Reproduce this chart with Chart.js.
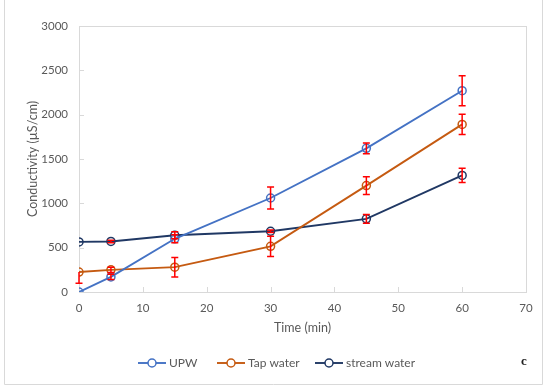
<!DOCTYPE html>
<html>
<head>
<meta charset="utf-8">
<script src="https://cdn.jsdelivr.net/npm/chart.js@4"></script>
<style>
  body { margin: 0; background: #fff; }
  #wrap { width: 550px; height: 390px; }
</style>
</head>
<body>
<div id="wrap"><canvas id="cond" width="550" height="390"></canvas></div>
<script>
// data
const timeMin = [0, 5, 15, 30, 45, 60];
const upw = [0, 170, 600, 1060, 1620, 2270];
const upwErr = [0, 30, 45, 125, 60, 170];
const tap = [225, 250, 280, 515, 1200, 1890];
const tapErrLow = [125, 30, 110, 115, 100, 115];
const tapErrHigh = [0, 30, 110, 115, 100, 115];
const stream = [565, 570, 640, 685, 825, 1315];
const streamErr = [0, 15, 40, 15, 50, 80];
const yTicks = [0, 500, 1000, 1500, 2000, 2500, 3000];
const xTicks = [0, 10, 20, 30, 40, 50, 60, 70];

const textGrey = '#595959'
const axisGrey = '#d9d9d9'
const fontFam = 'Lato, "Open Sans", sans-serif'

function pts(vals) {
  return timeMin.map((t, i) => ({ x: t, y: vals[i] }))
}

function series(label, vals, color, lo, hi) {
  return {
    label: label,
    data: pts(vals),
    borderColor: color,
    backgroundColor: 'rgba(0,0,0,0)',
    borderWidth: 1.9,
    pointRadius: 4,
    pointBorderWidth: 1.5,
    pointBorderColor: color,
    pointBackgroundColor: 'rgba(0,0,0,0)',
    tension: 0,
    errLow: lo,
    errHigh: hi
  }
}

// box around plot, inside ticks, red error bars, legend, frame
const extras = {
  id: 'extras',
  beforeDatasetsDraw(chart) {
    const ctx = chart.ctx
    const a = chart.chartArea
    const xs = chart.scales.x, ys = chart.scales.y
    ctx.save()
    ctx.strokeStyle = axisGrey
    ctx.lineWidth = 1
    ctx.strokeRect(Math.round(a.left) + 0.5, Math.round(a.top) + 0.5,
      Math.round(a.right - a.left), Math.round(a.bottom - a.top))
    ctx.beginPath()
    xTicks.forEach(v => {
      const px = Math.round(xs.getPixelForValue(v)) + 0.5
      ctx.moveTo(px, a.bottom)
      ctx.lineTo(px, a.bottom - 5)
    })
    yTicks.forEach(v => {
      const py = Math.round(ys.getPixelForValue(v)) + 0.5
      ctx.moveTo(a.left, py)
      ctx.lineTo(a.left + 5, py)
    })
    ctx.stroke()
    ctx.restore()
  },
  afterDatasetsDraw(chart) {
    const ctx = chart.ctx
    const xs = chart.scales.x, ys = chart.scales.y
    ctx.save()
    ctx.strokeStyle = '#ff0000'
    ctx.lineWidth = 1.5
    chart.data.datasets.forEach(ds => {
      ds.data.forEach((p, i) => {
        const lo = ds.errLow[i], hi = ds.errHigh[i]
        if (!lo && !hi) return
        const px = xs.getPixelForValue(p.x)
        const top = ys.getPixelForValue(p.y + hi)
        const bot = ys.getPixelForValue(p.y - lo)
        ctx.beginPath()
        ctx.moveTo(px, top); ctx.lineTo(px, bot)
        if (hi) { ctx.moveTo(px - 3.5, top); ctx.lineTo(px + 3.5, top) }
        if (lo) { ctx.moveTo(px - 3.5, bot); ctx.lineTo(px + 3.5, bot) }
        ctx.stroke()
      })
    })
    ctx.restore()
  },
  afterDraw(chart) {
    const ctx = chart.ctx
    ctx.save()
    // legend
    const legX = [138, 217, 315]
    const ly = 363
    ctx.font = '12px ' + fontFam
    ctx.textBaseline = 'middle'
    chart.data.datasets.forEach((ds, i) => {
      const x0 = legX[i]
      ctx.strokeStyle = ds.borderColor
      ctx.lineWidth = 1.9
      ctx.beginPath()
      ctx.moveTo(x0, ly); ctx.lineTo(x0 + 28, ly)
      ctx.stroke()
      ctx.fillStyle = '#fff'
      ctx.lineWidth = 1.5
      ctx.beginPath()
      ctx.arc(x0 + 14, ly, 4, 0, Math.PI * 2)
      ctx.fill()
      ctx.stroke()
      ctx.fillStyle = textGrey
      ctx.fillText(ds.label, x0 + 31, ly)
    })
    // panel letter
    ctx.fillStyle = '#222'
    ctx.font = 'bold 13px "Liberation Serif", serif'
    ctx.textAlign = 'center'
    ctx.fillText('c', 524, 362)
    // outer frame
    ctx.strokeStyle = axisGrey
    ctx.lineWidth = 1
    ctx.beginPath()
    ctx.moveTo(4.5, 0); ctx.lineTo(4.5, 384.5)
    ctx.lineTo(542.5, 384.5); ctx.lineTo(542.5, 0)
    ctx.stroke()
    ctx.restore()
  }
}

const config = {
  type: 'line',
  data: {
    datasets: [
      series('UPW', upw, '#4472c4', upwErr, upwErr),
      series('Tap water', tap, '#c55a11', tapErrLow, tapErrHigh),
      series('stream water', stream, '#203864', streamErr, streamErr)
    ]
  },
  options: {
    responsive: false,
    animation: false,
    layout: { padding: { top: 26, right: 24, bottom: 51, left: 0 } },
    plugins: {
      legend: { display: false },
      tooltip: { enabled: false }
    },
    scales: {
      x: {
        type: 'linear',
        min: 0,
        max: 70,
        afterFit: s => { s.height = 47 },
        afterBuildTicks: s => { s.ticks = xTicks.map(v => ({ value: v })) },
        grid: { display: false, drawTicks: false },
        border: { display: false },
        ticks: { color: textGrey, font: { size: 11.5, family: fontFam }, padding: 9, callback: v => String(v) },
        title: {
          display: true,
          text: 'Time (min)',
          color: textGrey,
          font: { size: 12.5, family: fontFam },
          padding: { top: 4, bottom: 4 }
        }
      },
      y: {
        min: 0,
        max: 3000,
        afterFit: s => { s.width = 79 },
        afterBuildTicks: s => { s.ticks = yTicks.map(v => ({ value: v })) },
        grid: { display: false, drawTicks: false },
        border: { display: false },
        ticks: { color: textGrey, font: { size: 11.5, family: fontFam }, padding: 11, callback: v => String(v) },
        title: {
          display: true,
          text: 'Conductivity (µS/cm)',
          color: textGrey,
          font: { size: 12.5, family: fontFam },
          padding: { top: 25, bottom: 4 }
        }
      }
    }
  },
  plugins: [extras]
};

const condChart = new Chart(document.getElementById('cond'), config);
</script>
</body>
</html>
